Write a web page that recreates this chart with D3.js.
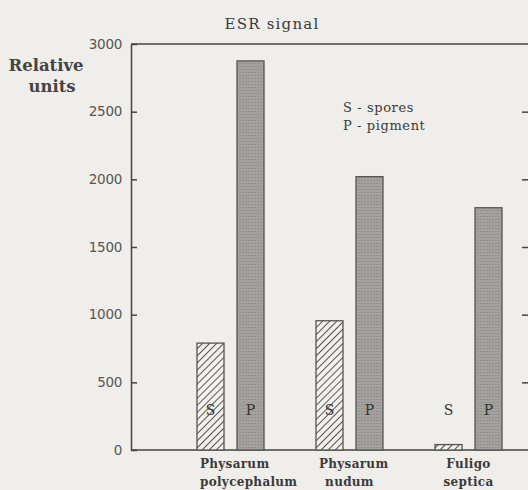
<!DOCTYPE html>
<html>
<head>
<meta charset="utf-8">
<script src="https://cdn.jsdelivr.net/npm/d3@7"></script>
<style>
  body { margin: 0; background: #efeeea; }
  svg { display: block; }
</style>
</head>
<body>
<div id="chart"></div>
<script>
// data
const species = ["Physarum polycephalum", "Physarum nudum", "Fuligo septica"];
const speciesLines = [["Physarum", "polycephalum"], ["Physarum", "nudum"], ["Fuligo", "septica"]];
const kinds = ["S", "P"];
const spores = [790, 955, 40];
const pigment = [2875, 2020, 1790];
const yTicks = [0, 500, 1000, 1500, 2000, 2500, 3000];
const legendLines = ["S - spores", "P - pigment"];

const width = 528, height = 490;
const ink = "#3a3a3a";
const serif = "'DejaVu Serif', 'Liberation Serif', serif";

const svg = d3.select("#chart").append("svg")
  .attr("width", width).attr("height", height);

svg.append("rect").attr("width", width).attr("height", height).attr("fill", "#efeeea");

const defs = svg.append("defs");

// hatched fill for spores
const hatch = defs.append("pattern")
  .attr("id", "hatch").attr("patternUnits", "userSpaceOnUse")
  .attr("width", 5).attr("height", 5)
  .attr("patternTransform", "rotate(45)");
hatch.append("rect").attr("width", 5).attr("height", 5).attr("fill", "#f2f1ec");
hatch.append("line").attr("x1", 0).attr("y1", 0).attr("x2", 0).attr("y2", 5)
  .attr("stroke", "#555").attr("stroke-width", 2);

// stippled fill for pigment
const dots = defs.append("pattern")
  .attr("id", "dots").attr("patternUnits", "userSpaceOnUse")
  .attr("width", 3).attr("height", 3);
dots.append("rect").attr("width", 3).attr("height", 3).attr("fill", "#aaa9a6");
dots.append("rect").attr("x", 0).attr("y", 0).attr("width", 1).attr("height", 1).attr("fill", "#6e6e6e");
dots.append("rect").attr("x", 1.5).attr("y", 1.5).attr("width", 1).attr("height", 1).attr("fill", "#7e7e7e");

// scales
const x = d3.scaleBand().domain(species).range([170.5, 527.5]).padding(0);
const xInner = d3.scaleBand().domain(kinds).range([26.5, 93.5]).paddingInner(0.325).paddingOuter(0);
const y = d3.scaleLinear().domain([0, 3000]).range([450, 44]);

const left = 131, right = 529;

// title
svg.append("text").attr("x", 272).attr("y", 29).attr("text-anchor", "middle")
  .attr("font-family", serif).attr("font-size", 15).attr("letter-spacing", 1.2).attr("fill", ink)
  .text("ESR signal");

// y label
svg.append("text").attr("x", 46).attr("y", 71).attr("text-anchor", "middle")
  .attr("font-family", serif).attr("font-size", 16.5).attr("font-weight", "bold").attr("fill", "#444")
  .text("Relative");
svg.append("text").attr("x", 52).attr("y", 92).attr("text-anchor", "middle")
  .attr("font-family", serif).attr("font-size", 16.5).attr("font-weight", "bold").attr("fill", "#444")
  .text("units");

// left axis, ticks pointing inward
const yAxis = svg.append("g").attr("transform", `translate(${left},0)`)
  .call(d3.axisLeft(y).tickValues(yTicks).tickFormat(d3.format("d"))
    .tickSizeInner(-6).tickSizeOuter(0).tickPadding(9));
yAxis.select(".domain").attr("stroke", "#444").attr("stroke-width", 1.5);
yAxis.selectAll(".tick line").attr("stroke", "#444").attr("stroke-width", 1.5);
yAxis.selectAll(".tick text").attr("font-family", "'DejaVu Sans', sans-serif")
  .attr("font-size", 13.5).attr("letter-spacing", -0.3).attr("fill", "#555");

// right axis, ticks pointing inward
const yAxisR = svg.append("g").attr("transform", `translate(${right},0)`)
  .call(d3.axisRight(y).tickValues(yTicks.slice(1, -1)).tickSizeInner(-7).tickSizeOuter(0).tickFormat(""));
yAxisR.select(".domain").attr("stroke", "#444").attr("stroke-width", 1.5);
yAxisR.selectAll(".tick line").attr("stroke", "#444").attr("stroke-width", 1.5);

// frame top and baseline
svg.append("line").attr("x1", left).attr("x2", right).attr("y1", y(3000)).attr("y2", y(3000))
  .attr("stroke", "#444").attr("stroke-width", 1.5);
svg.append("line").attr("x1", left).attr("x2", right).attr("y1", y(0)).attr("y2", y(0))
  .attr("stroke", "#444").attr("stroke-width", 1.5);

// bars
const rows = species.map((s, i) => ({ s, i, vals: [
  { k: "S", v: spores[i] }, { k: "P", v: pigment[i] }
] }));

const groups = svg.selectAll(".group").data(rows).enter().append("g")
  .attr("class", "group")
  .attr("transform", (d) => `translate(${x(d.s)},0)`);

groups.selectAll("rect").data((d) => d.vals).enter().append("rect")
  .attr("x", (d) => xInner(d.k))
  .attr("width", xInner.bandwidth())
  .attr("y", (d) => y(d.v))
  .attr("height", (d) => y(0) - y(d.v))
  .attr("fill", (d) => d.k === "S" ? "url(#hatch)" : "url(#dots)")
  .attr("stroke", "#555").attr("stroke-width", 1.3);

groups.selectAll(".lbl").data((d) => d.vals).enter().append("text")
  .attr("class", "lbl")
  .attr("x", (d) => xInner(d.k) + xInner.bandwidth() / 2)
  .attr("y", 415)
  .attr("text-anchor", "middle")
  .attr("font-family", serif).attr("font-size", 14).attr("fill", "#333")
  .text((d) => d.k);

// category labels
groups.each(function (d) {
  const g = d3.select(this);
  const gLeft = xInner(kinds[0]);
  const gCenter = (xInner(kinds[0]) + xInner(kinds[1]) + xInner.bandwidth()) / 2;
  speciesLines[d.i].forEach((line, j) => {
    const t = g.append("text")
      .attr("y", 468 + j * 18)
      .attr("font-family", serif).attr("font-size", 12).attr("font-weight", "bold")
      .attr("letter-spacing", 0.3)
      .attr("fill", ink).text(line);
    const w = t.node().getComputedTextLength();
    t.attr("x", Math.max(gCenter - w / 2, gLeft + 3));
  });
});

// legend
legendLines.forEach((line, i) => {
  svg.append("text").attr("x", 343).attr("y", 112 + i * 18)
    .attr("font-family", serif).attr("font-size", 13).attr("letter-spacing", 0.6).attr("fill", ink)
    .text(line);
});
</script>
</body>
</html>
